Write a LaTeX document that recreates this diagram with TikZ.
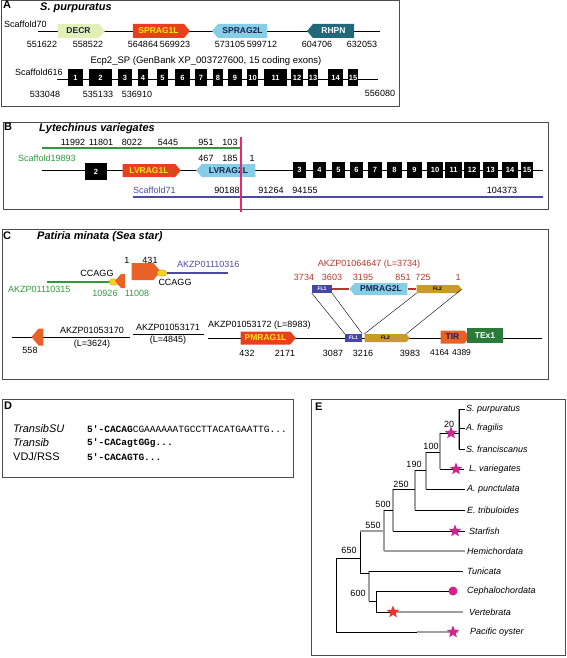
\documentclass[tikz,border=0pt]{standalone}
\usepackage{fontspec}
\setmainfont{Liberation Sans}
\newfontfamily\seqfont{Liberation Mono}
\usetikzlibrary{shapes.symbols,shapes.geometric,positioning,calc}
\definecolor{decrc}{HTML}{E3F0B4}
\definecolor{ragred}{HTML}{E8401C}
\definecolor{ragyel}{HTML}{FFE81A}
\definecolor{ragblue}{HTML}{86CDE6}
\definecolor{navytxt}{HTML}{16264F}
\definecolor{rhpnc}{HTML}{20687A}
\definecolor{scgreen}{HTML}{2E9A3C}
\definecolor{scblue}{HTML}{4B4BA3}
\definecolor{cutpink}{HTML}{E8286A}
\definecolor{orangec}{HTML}{EA6128}
\definecolor{ccyel}{HTML}{F6D21E}
\definecolor{flone}{HTML}{4646A6}
\definecolor{fltwo}{HTML}{C99A2E}
\definecolor{brick}{HTML}{B4382C}
\definecolor{texgreen}{HTML}{2C7A3A}
\definecolor{starpink}{HTML}{D02590}
\definecolor{starred}{HTML}{E8342A}
\tikzstyle{panel} = [draw=black!70, line width=0.9pt]
\tikzstyle{letter} = [font=\bfseries\fontsize{11}{12}\selectfont, anchor=north west, inner sep=0pt]
\tikzstyle{title} = [font=\bfseries\itshape\fontsize{11}{12}\selectfont, anchor=west, inner sep=0pt]
\tikzstyle{lbl} = [font=\fontsize{9}{10}\selectfont, inner sep=0pt]
\tikzstyle{gene} = [signal, signal pointer angle=100, draw=none, inner sep=0pt, minimum height=14pt, font=\bfseries\fontsize{8.5}{9}\selectfont]
\tikzstyle{fwd} = [gene, signal to=east]
\tikzstyle{rev} = [gene, signal to=west]
\tikzstyle{exon} = [fill=black, text=white, inner sep=0pt, minimum height=17pt, font=\bfseries\fontsize{7.5}{8}\selectfont]
\tikzstyle{site} = [ellipse, fill=ccyel, draw=ccyel!70!black, line width=0.3pt, inner sep=0pt, minimum width=10pt, minimum height=6.5pt]
\tikzstyle{tip} = [font=\itshape\fontsize{9}{10}\selectfont, anchor=west, inner sep=0pt]
\tikzstyle{br} = [line width=0.6pt]
\tikzstyle{brg} = [line width=1.3pt, gray!75]
\tikzstyle{mstar} = [star, star points=5, star point ratio=2.3, fill=starpink, inner sep=0pt, minimum size=13pt]

\begin{document}
\begin{tikzpicture}[x=1pt,y=-1pt]
\useasboundingbox (0,0) rectangle (567,658);

%% A
\draw[panel] (1,0) rectangle (399,106);
\node[letter] (lA) at (3,1) {A};
\node[title] (tA) at (40,8) {S. purpuratus};
\node[lbl, anchor=west] (s70) at (4,24) {Scaffold70};
\coordinate (s70a) at (38,31);
\coordinate (s70b) at (380,31);
\draw (s70a) -- (s70b);
\node[fwd, fill=decrc, text=navytxt, minimum width=47pt] (decr) at (78.5,31) {DECR};
\node[fwd, fill=ragred, text=ragyel, minimum width=57pt] (sprag1) at (158.5,31) {SPRAG1L};
\node[rev, fill=ragblue, text=navytxt, minimum width=55pt] (sprag2) at (242.5,31) {SPRAG2L};
\node[rev, fill=rhpnc, text=white, minimum width=47pt] (rhpn) at (333.5,31) {RHPN};
\foreach \v/\xx in {551622/42, 558522/88, 564864/143, 569923/175, 573105/230, 599712/262, 604706/317, 632053/362}
  \node[lbl] (a\v) at (\xx,44) {\v};
\node[lbl, font=\fontsize{9.5}{10}\selectfont] (ecp) at (206,61) {Ecp2\_SP (GenBank XP\_003727600, 15 coding exons)};
\node[lbl, anchor=west] (s616) at (15,72) {Scaffold616};
\coordinate (s616a) at (57,79);
\coordinate (s616b) at (378,79);
\draw (s616a) -- (s616b);
\foreach \n/\a/\b in {1/68/83, 2/89/112, 3/118/132, 4/138/148, 5/157/168, 6/175/190, 7/195/207, 8/213/223, 9/228/242, 10/247/258, 11/264/287, 12/291/303, 13/308/318, 14/328/343, 15/348/358}
  \node[exon, minimum width={\b-\a}] (ea\n) at ({(\a+\b)/2},78) {\n};
\foreach \v/\xx in {533048/45, 535133/98, 536910/137}
  \node[lbl] (b\v) at (\xx,94) {\v};
\node[lbl] (b556080) at (380,93) {556080};

%% B
\draw[panel] (3,122) rectangle (548,209);
\node[letter] (lB) at (4,123) {B};
\node[title] (tB) at (39,129) {Lytechinus variegates};
\foreach \v/\xx in {11992/73, 11801/101, 8022/132, 5445/168, 951/206, 103/230}
  \node[lbl] (g\v) at (\xx,142) {\v};
\coordinate (gra) at (42,148);
\coordinate (grb) at (240,148);
\draw[scgreen, line width=1.6pt] (gra) -- (grb);
\node[lbl, anchor=west, text=scgreen] (s19893) at (18,158) {Scaffold19893};
\foreach \v/\xx in {467/206, 185/230, 1/252}
  \node[lbl] (h\v) at (\xx,158) {\v};
\coordinate (bla) at (42,170);
\coordinate (blb) at (543,170);
\draw (bla) -- (blb);
\node[exon, minimum width=22pt] (eb2) at (96,171.5) {2};
\node[fwd, fill=ragred, text=ragyel, minimum width=58pt, minimum height=13pt] (lv1) at (149,170.5) {LVRAG1L};
\node[rev, fill=ragblue, text=navytxt, minimum width=59pt, minimum height=13pt] (lv2) at (228.5,170.5) {LVRAG2L};
\foreach \n/\a/\b in {3/293/306, 4/313/326, 5/332/345, 6/350/363, 7/368/382, 8/387/402, 9/407/422, 10/427/443, 11/445/462, 12/464/480, 13/483/498, 14/502/518, 15/521/533}
  \node[exon, minimum width={\b-\a}, minimum height=16pt] (eb\n) at ({(\a+\b)/2},170) {\n};
\node[lbl, anchor=west, text=scblue] (s71) at (133,190) {Scaffold71};
\foreach \v/\xx in {90188/227, 91264/271, 94155/305, 104373/502}
  \node[lbl] (k\v) at (\xx,190) {\v};
\coordinate (bua) at (133,197);
\coordinate (bub) at (543,197);
\draw[scblue, line width=1.6pt] (bua) -- (bub);
\coordinate (cuta) at (241,137);
\coordinate (cutb) at (241,212);
\draw[cutpink, line width=1.2pt] (cuta) -- (cutb);

%% C
\draw[panel] (2,229) rectangle (548,379);
\node[letter] (lC) at (3,232) {C};
\node[title] (tC) at (37,237) {Patiria minata (Sea star)};
\node[lbl, anchor=west, text=scgreen] (k315) at (8,289) {AKZP01110315};
\coordinate (gca) at (47,282);
\draw[scgreen, line width=1.6pt] (gca) -- (110,282);
\node[site] (cc1) at (114,282) {};
\node[lbl] (ccagg1) at (97,273) {CCAGG};
\node[rev, fill=orangec, minimum width=10pt, minimum height=14pt] (pc1) at (123,281) {};
\node[lbl, text=scgreen] (n10926) at (105,293) {10926};
\node[lbl, text=scgreen] (n11008) at (137,293) {11008};
\node[fwd, fill=orangec, minimum width=29pt, minimum height=17pt] (pc2) at (142.5,271.5) {};
\node[lbl] (n1c) at (127,260) {1};
\node[lbl] (n431) at (150,260) {431};
\node[site] (cc2) at (162,273) {};
\coordinate (bcb) at (228,273);
\draw[scblue, line width=1.6pt] (cc2.east) -- (bcb);
\node[lbl, anchor=west, text=scblue] (k316) at (177,264) {AKZP01110316};
\node[lbl] (ccagg2) at (175,282) {CCAGG};

\node[lbl, text=brick] (k647) at (369,264) {AKZP01064647 (L=3734)};
\foreach \v/\xx in {3734/304, 3603/332, 3195/363, 851/403, 725/423, 1/458}
  \node[lbl, text=brick] (r\v) at (\xx,277) {\v};
\node[fill=flone, text=white, inner sep=0pt, minimum width=20pt, minimum height=8pt, font=\bfseries\fontsize{5}{5}\selectfont] (fl1u) at (322,289) {FL1};
\node[rev, fill=ragblue, text=navytxt, minimum width=58pt, minimum height=12pt] (pm2) at (381,289) {PMRAG2L};
\node[fwd, fill=fltwo, text=black, minimum width=45pt, minimum height=8pt, font=\bfseries\fontsize{5}{5}\selectfont] (fl2u) at (437.5,289) {FL2};
\draw[brick, line width=1.6pt] (fl1u.east) -- (pm2.west);
\draw[brick, line width=1.6pt] (pm2.east) -- (fl2u.west);

\coordinate (c1a) at (12,337);
\coordinate (c1b) at (130,337);
\draw (c1a) -- (c1b);
\coordinate (c2a) at (133,334);
\coordinate (c2b) at (204,334);
\draw (c2a) -- (c2b);
\coordinate (c3a) at (208,338);
\coordinate (c3b) at (542,338);
\draw (c3a) -- (c3b);
\node[rev, fill=orangec, minimum width=12pt, minimum height=17pt] (pc3) at (41,337) {};
\node[lbl] (n558) at (30,350) {558};
\node[lbl] (k170) at (92,330) {AKZP01053170};
\node[lbl] (l170) at (92,344) {(L=3624)};
\node[lbl] (k171) at (168,327) {AKZP01053171};
\node[lbl] (l171) at (168,340) {(L=4845)};
\node[lbl, anchor=west] (k172) at (208,325) {AKZP01053172 (L=8983)};
\node[fwd, fill=ragred, text=ragyel, minimum width=55pt, minimum height=13pt] (pm1) at (265.5,338) {PMRAG1L};
\node[fill=flone, text=white, inner sep=0pt, minimum width=17pt, minimum height=8pt, font=\bfseries\fontsize{5}{5}\selectfont] (fl1d) at (353.5,338) {FL1};
\node[fwd, fill=fltwo, text=black, minimum width=45pt, minimum height=8pt, font=\bfseries\fontsize{5}{5}\selectfont] (fl2d) at (385.5,338) {FL2};
\node[fwd, fill=orangec, text=navytxt, minimum width=29pt, minimum height=13pt] (tir) at (452.5,337) {TIR};
\node[fill=texgreen, text=white, inner sep=0pt, minimum width=36pt, minimum height=15pt, font=\bfseries\fontsize{8.5}{9}\selectfont] (tex) at (485,335.5) {TEx1};
\foreach \v/\xx in {432/247, 2171/285, 3087/333, 3216/363, 3983/410}
  \node[lbl] (m\v) at (\xx,353) {\v};
\node[lbl, font=\fontsize{8.5}{9}\selectfont] (m4164) at (439.5,353) {4164};
\node[lbl, font=\fontsize{8.5}{9}\selectfont] (m4389) at (461.5,353) {4389};
\draw[line width=0.4pt] (fl1u.south west) -- (fl1d.north west);
\draw[line width=0.4pt] (fl1u.south east) -- (fl1d.north east);
\draw[line width=0.4pt] (fl2u.south west) -- (fl2d.north west);
\draw[line width=0.4pt] (fl2u.east) -- (fl2d.north east);

%% D
\draw[panel] (2,399) rectangle (293,477);
\node[letter] (lD) at (4,402) {D};
\node[tip, font=\itshape\fontsize{11}{12}\selectfont] (dsu) at (13,429) {TransibSU};
\node[tip, font=\itshape\fontsize{11}{12}\selectfont] (dtr) at (13,443) {Transib};
\node[tip, font=\fontsize{11}{12}\selectfont] (dvdj) at (13,457) {VDJ/RSS};
\node[anchor=west, inner sep=0pt, font=\seqfont\fontsize{9.5}{10}\selectfont] (qsu) at (87,429) {\textbf{5'-CACAG}CGAAAAAATGCCTTACATGAATTG...};
\node[anchor=west, inner sep=0pt, font=\seqfont\bfseries\fontsize{9.5}{10}\selectfont] (qtr) at (87,443) {5'-CACagtGGg...};
\node[anchor=west, inner sep=0pt, font=\seqfont\bfseries\fontsize{9.5}{10}\selectfont] (qvdj) at (87,457) {5'-CACAGTG...};

%% E
\draw[panel] (311,399) rectangle (565,655);
\node[letter] (lE) at (315,403) {E};
\coordinate (n20) at (459,433);
\coordinate (n100) at (440,452);
\coordinate (n190) at (426,470);
\coordinate (n250) at (415,489);
\coordinate (n500) at (393,510);
\coordinate (n550) at (384,531);
\coordinate (n650) at (360,558);
\coordinate (n600a) at (369,573);
\coordinate (n600b) at (376,601);
\coordinate (root) at (336,595);
\foreach \nm/\xx/\yy in {purp/465/409, frag/465/428, franc/465/449, lvar/464/469, apun/465/489, etri/465/510, sfish/465/531, hemi/465/551, tuni/463/571, ceph/453/591, vert/463/612, oyst/458/632}
  \coordinate (t-\nm) at (\xx,\yy);
% verticals grey, horizontals black
\foreach \p/\c in {n20/t-purp, n20/t-frag, n20/t-franc, n100/n20, n100/t-lvar, n190/n100, n190/t-apun, n250/n190, n250/t-etri, n500/n250, n500/t-sfish, n550/n500, n550/t-hemi, n600a/t-tuni, n600a/n600b}
  {\draw[brg] (\p) -- (\p |- \c);
   \draw[br] (\p |- \c) -- (\c);}
\foreach \p/\c in {n650/n550, n650/n600a, n600b/t-ceph, n600b/t-vert, root/n650, root/t-oyst}
  \draw[br] (\p) |- (\c);
\draw[brg] (n20) -- (n20 |- t-purp);
\draw[br] (n20 |- t-purp) -- (n20 |- t-franc);
\draw[brg] (n550 |- t-hemi) -- (t-hemi);
\draw[brg] (n550 |- n550) -- (n650 |- n550);
\draw[brg] (393,612) -- (t-vert);
\draw[brg] (417,632) -- (t-oyst);
\node[tip] (lpurp) at (466,409) {S. purpuratus};
\node[tip] (lfrag) at (466,428) {A. fragilis};
\node[tip] (lfranc) at (466,449) {S. franciscanus};
\node[tip] (llvar) at (469,469) {L. variegates};
\node[tip] (lapun) at (467,489) {A. punctulata};
\node[tip] (letri) at (467,510) {E. tribuloides};
\node[tip] (lsfish) at (469,531) {Starfish};
\node[tip] (lhemi) at (467,551) {Hemichordata};
\node[tip] (ltuni) at (467,571) {Tunicata};
\node[tip] (lceph) at (467,591) {Cephalochordata};
\node[tip] (lvert) at (469,612) {Vertebrata};
\node[tip] (loyst) at (470,632) {Pacific oyster};
\foreach \v/\xx/\yy in {20/449/424, 100/431/446, 190/414/464, 250/401/484, 500/383/504, 550/373/525, 650/349/550, 600/358/593}
  \node[lbl] (d\v) at (\xx,\yy) {\v};
\node[mstar] (st1) at (451,433) {};
\node[mstar] (st2) at (456,469) {};
\node[mstar] (st3) at (455,531) {};
\node[mstar] (st4) at (453,632) {};
\node[circle, fill=starpink, inner sep=0pt, minimum size=9pt] (dot) at (453,591) {};
\node[mstar, fill=starred] (st5) at (393,612) {};
\end{tikzpicture}
\end{document}
